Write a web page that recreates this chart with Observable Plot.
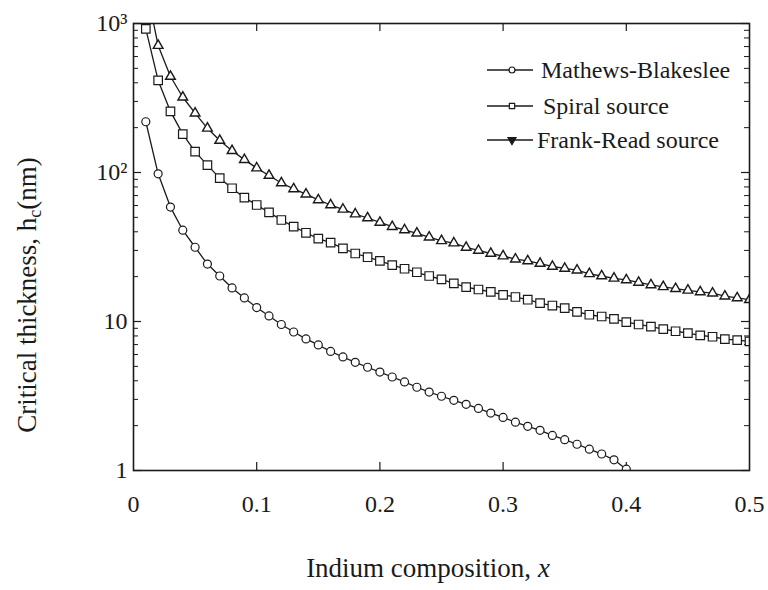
<!DOCTYPE html>
<html><head><meta charset="utf-8">
<script src="https://cdn.jsdelivr.net/npm/d3@7"></script>
<script src="https://cdn.jsdelivr.net/npm/@observablehq/plot@0.6"></script>
<style>
body{margin:0;background:#fff}
#chart svg{background:#fff}
#chart svg, #chart svg text, #chart svg g{font-family:"Liberation Serif","Times New Roman",serif !important}
</style>
</head><body><div id="chart"></div>
<script>
// ---- data ----
const composition = [0.01,0.02,0.03,0.04,0.05,0.06,0.07,0.08,0.09,0.10,
  0.11,0.12,0.13,0.14,0.15,0.16,0.17,0.18,0.19,0.20,
  0.21,0.22,0.23,0.24,0.25,0.26,0.27,0.28,0.29,0.30,
  0.31,0.32,0.33,0.34,0.35,0.36,0.37,0.38,0.39,0.40,
  0.41,0.42,0.43,0.44,0.45,0.46,0.47,0.48,0.49,0.50];
const mathewsBlakeslee = [219,98,58.6,41,31.5,24.3,20.2,16.8,14.4,12.4,
  10.9,9.55,8.5,7.64,6.96,6.3,5.78,5.32,4.93,4.58,
  4.24,3.93,3.62,3.36,3.15,2.96,2.78,2.61,2.43,2.27,
  2.11,1.98,1.86,1.72,1.61,1.50,1.39,1.29,1.18,1.02];
const spiralSource = [920,415,257,181,138,112,91.6,78.4,67.8,60.5,
  54,48,43.3,39.4,36,33.8,31,28.6,27,25.5,
  23.9,22.6,21.4,20.2,19.2,18,17,16.4,15.8,15.1,
  14.6,14.0,13.3,12.8,12.3,11.6,11.1,10.8,10.4,9.9,
  9.55,9.25,8.9,8.6,8.35,8.08,7.9,7.62,7.5,7.35];
const frankRead = [1800,711,441,320,250,198,164,140,122,107,
  95.5,85,77.6,71.5,65.5,60.5,56.6,52.6,49.5,46.2,
  43.3,41.2,39.1,36.8,34.8,33.6,31.4,30,28.6,27.5,
  26.2,25.5,24.5,23.4,22.7,22.1,20.9,20.2,19.5,19.0,
  18.3,17.6,17.1,16.6,16.2,15.8,15.5,14.8,14.4,14.0];
const seriesNames = ["Mathews-Blakeslee","Spiral source","Frank-Read source"];
const xTicks = [0,0.1,0.2,0.3,0.4,0.5];
const xInnerTicks = [0.1,0.2,0.3,0.4];
const yMajor = [1,10,100,1000];
const yMinor = [2,3,4,5,6,7,8,9,20,30,40,50,60,70,80,90,200,300,400,500,600,700,800,900];
const yLabels = {1:"1",10:"10",100:"10\u00B2",1000:"10\u00B3"};

const rows = (vals, name) => vals.map((v,i)=>({x: composition[i], h: v, series: name}));
const mb = rows(mathewsBlakeslee, seriesNames[0]);
const sp = rows(spiralSource, seriesNames[1]);
const fr = rows(frankRead, seriesNames[2]);
const all = mb.concat(sp, fr);

const W = 768, H = 590, mL = 133, mR = 19, mT = 23, mB = 120;
const pw = W - mL - mR, ph = H - mT - mB;
const ink = "#1a1a1a";
const serif = "Liberation Serif, Times New Roman, serif";

const chart = Plot.plot({
  width: W, height: H,
  marginLeft: mL, marginRight: mR, marginTop: mT, marginBottom: mB,
  style: {fontFamily: serif, color: ink, background: "#fff"},
  x: {domain: [0, 0.5], axis: null},
  y: {type: "log", domain: [1, 1000], axis: null},
  marks: [
    Plot.tickY(yMajor, {y: d => d, stroke: ink, strokeWidth: 1.2, insetRight: pw - 8}),
    Plot.tickY(yMajor, {y: d => d, stroke: ink, strokeWidth: 1.2, insetLeft: pw - 8}),
    Plot.tickY(yMinor, {y: d => d, stroke: ink, strokeWidth: 1, insetRight: pw - 5}),
    Plot.tickY(yMinor, {y: d => d, stroke: ink, strokeWidth: 1, insetLeft: pw - 5}),
    Plot.tickX(xInnerTicks, {x: d => d, stroke: ink, strokeWidth: 1.2, insetTop: ph - 8}),
    Plot.tickX(xInnerTicks, {x: d => d, stroke: ink, strokeWidth: 1.2, insetBottom: ph - 8}),
    Plot.axisX(xTicks, {tickSize: 0, tickPadding: 24, fontSize: 24, label: null, tickFormat: d => String(d), fill: ink}),
    Plot.axisY(yMajor, {tickSize: 0, tickPadding: 6, fontSize: 24, label: null, tickFormat: d => yLabels[d], fill: ink}),
    Plot.line(all, {x: "x", y: "h", z: "series", stroke: ink, strokeWidth: 1.3, clip: true}),
    Plot.dot(mb, {x: "x", y: "h", symbol: "circle", r: 4, stroke: ink, fill: "white", strokeWidth: 1.2, clip: true}),
    Plot.dot(sp, {x: "x", y: "h", symbol: "square", r: 4.8, stroke: ink, fill: "white", strokeWidth: 1.2, clip: true}),
    Plot.dot(fr, {x: "x", y: "h", symbol: "triangle", r: 3.6, stroke: ink, fill: "white", strokeWidth: 1.4, clip: true}),
    Plot.frame({stroke: ink, strokeWidth: 1.6})
  ]
});
document.getElementById("chart").appendChild(chart);

// axis titles and legend
const svg = d3.select(chart);
const xl = svg.append("text").attr("x", 428).attr("y", 577).attr("text-anchor", "middle")
  .attr("font-size", 27).attr("fill", ink);
xl.append("tspan").text("Indium composition, ");
xl.append("tspan").attr("font-style", "italic").text("x");

const yl = svg.append("text").attr("transform", "translate(36,295) rotate(-90)")
  .attr("text-anchor", "middle").attr("font-size", 27).attr("fill", ink);
yl.append("tspan").text("Critical thickness, h");
yl.append("tspan").attr("font-size", 18).attr("dy", 5).text("c");
yl.append("tspan").attr("dy", -5).text("(nm)");

const legendSymbols = [d3.symbolCircle, d3.symbolSquare, d3.symbolTriangle];
const legendRows = [70, 106, 140];
const lg = svg.append("g");
seriesNames.forEach((name, i) => {
  const y = legendRows[i];
  lg.append("line").attr("x1", 487).attr("x2", 533).attr("y1", y).attr("y2", y)
    .attr("stroke", ink).attr("stroke-width", 1.4);
  lg.append("path").attr("d", d3.symbol(legendSymbols[i], 28)())
    .attr("transform", `translate(512,${y})` + (i === 2 ? " rotate(180)" : ""))
    .attr("fill", i === 2 ? ink : "white").attr("stroke", ink).attr("stroke-width", 1.2);
  lg.append("text").attr("x", i === 1 ? 543 : (i === 2 ? 537 : 541)).attr("y", y + 8)
    .attr("text-anchor", "start").attr("font-size", 24).attr("fill", ink).text(name);
});
</script>
</body></html>
